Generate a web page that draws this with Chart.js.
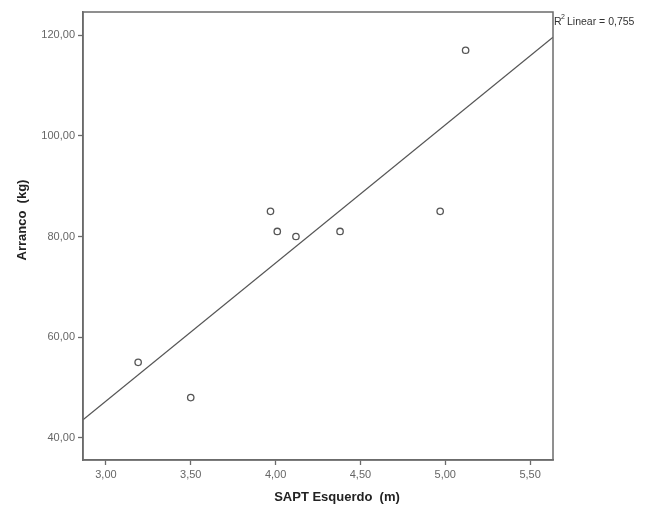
<!DOCTYPE html>
<html>
<head>
<meta charset="utf-8">
<script src="https://cdn.jsdelivr.net/npm/chart.js@4"></script>
<style>
  html, body { margin: 0; padding: 0; background: #fff; }
  #wrap { width: 659px; height: 513px; }
</style>
</head>
<body>
<div id="wrap"><canvas id="myChart" width="659" height="513"></canvas></div>
<script>
// SAPT Esquerdo (m) vs Arranco (kg)
const saptValues = [3.19, 3.50, 3.97, 4.01, 4.12, 4.38, 4.97, 5.12];
const arrancoValues = [55, 48, 85, 81, 80, 81, 85, 117];
// fit line end points
const fitX = [2.865, 5.635];
const fitY = [43.6, 119.6];
const xTicks = [3.0, 3.5, 4.0, 4.5, 5.0, 5.5];
const yTicks = [40, 60, 80, 100, 120];
const r2Text = 'Linear = 0,755';

const points = saptValues.map((x, i) => ({ x, y: arrancoValues[i] }));
const fitLine = fitX.map((x, i) => ({ x, y: fitY[i] }));

const fmt = v => v.toFixed(2).replace('.', ',');

// box, axis titles and R² note
const extras = {
  id: 'extras',
  afterDraw(chart) {
    const { ctx, chartArea: a } = chart;
    ctx.save();
    ctx.strokeStyle = '#6b6b6b';
    ctx.lineWidth = 1.5;
    ctx.strokeRect(a.left, a.top, a.right - a.left, a.bottom - a.top);

    ctx.fillStyle = '#222';
    ctx.font = 'bold 13px "Liberation Sans", Arial, sans-serif';
    ctx.textAlign = 'center';
    ctx.textBaseline = 'middle';
    ctx.fillText('SAPT Esquerdo  (m)', 337, 497);

    ctx.translate(22, 220);
    ctx.rotate(-Math.PI / 2);
    ctx.fillText('Arranco  (kg)', 0, 0);
    ctx.restore();

    ctx.save();
    ctx.fillStyle = '#333';
    ctx.textBaseline = 'alphabetic';
    ctx.textAlign = 'left';
    ctx.font = '10.5px "Liberation Sans", Arial, sans-serif';
    ctx.fillText('R', a.right + 1, 25);
    ctx.font = '7px "Liberation Sans", Arial, sans-serif';
    ctx.fillText('2', a.right + 8, 19);
    ctx.font = '10.5px "Liberation Sans", Arial, sans-serif';
    ctx.fillText(r2Text, a.right + 14, 25);
    ctx.restore();
  }
};

const ctx = document.getElementById('myChart').getContext('2d');
new Chart(ctx, {
  type: 'scatter',
  data: {
    datasets: [
      {
        data: points,
        pointStyle: 'circle',
        pointRadius: 3.2,
        pointBorderWidth: 1.3,
        borderColor: '#555',
        backgroundColor: '#fff',
        showLine: false
      },
      {
        type: 'line',
        data: fitLine,
        borderColor: '#555',
        borderWidth: 1.3,
        pointRadius: 0,
        fill: false
      }
    ]
  },
  plugins: [extras],
  options: {
    responsive: false,
    animation: false,
    layout: { padding: { left: 0, right: 106, top: 12, bottom: 0 } },
    plugins: {
      legend: { display: false },
      tooltip: { enabled: false }
    },
    scales: {
      x: {
        type: 'linear',
        min: 2.865,
        max: 5.635,
        afterFit: s => { s.height = 53; },
        afterBuildTicks: s => { s.ticks = xTicks.map(v => ({ value: v })); },
        grid: { drawOnChartArea: false, tickLength: 5, color: '#6b6b6b', tickWidth: 1.3 },
        border: { color: '#6b6b6b', width: 1.5 },
        ticks: {
          color: '#666',
          font: { size: 11, family: '"Liberation Sans", Arial, sans-serif' },
          padding: 3,
          maxRotation: 0,
          callback: v => fmt(v)
        }
      },
      y: {
        type: 'linear',
        min: 35.6,
        max: 124.6,
        afterFit: s => { s.width = 83; },
        afterBuildTicks: s => { s.ticks = yTicks.map(v => ({ value: v })); },
        grid: { drawOnChartArea: false, tickLength: 5, color: '#6b6b6b', tickWidth: 1.3 },
        border: { color: '#6b6b6b', width: 1.5 },
        ticks: {
          color: '#666',
          font: { size: 11, family: '"Liberation Sans", Arial, sans-serif' },
          padding: 3,
          callback: v => fmt(v)
        }
      }
    }
  }
});
</script>
</body>
</html>
